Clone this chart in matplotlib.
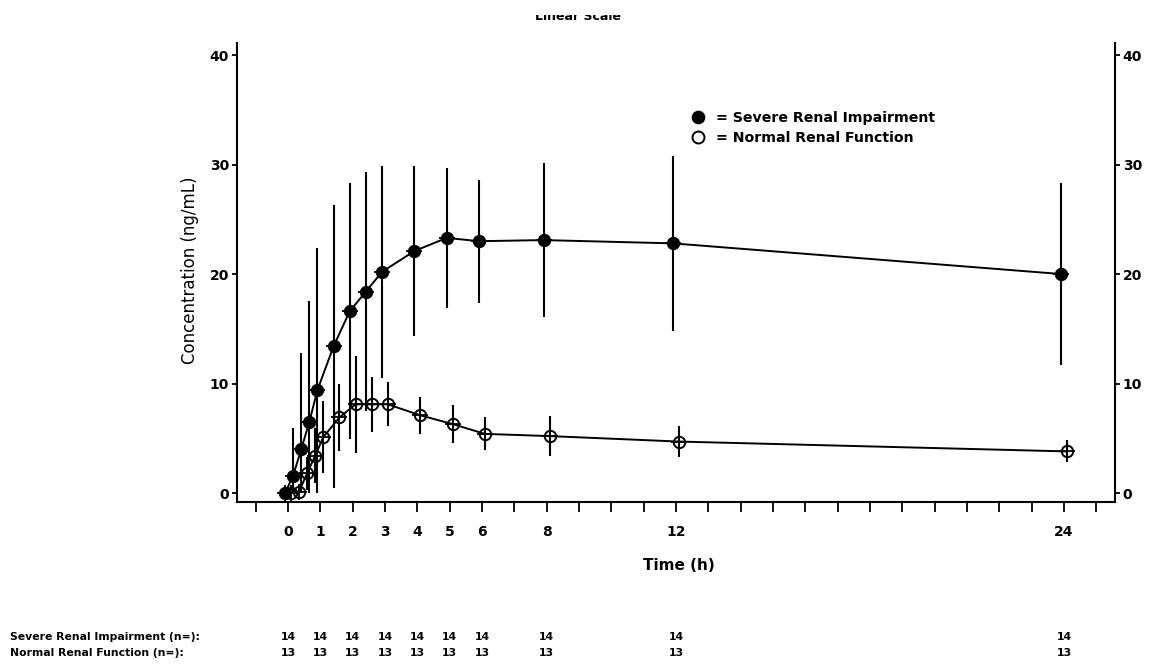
import numpy as np
import matplotlib
matplotlib.use("Agg")
import matplotlib.pyplot as plt
from matplotlib.lines import Line2D
from matplotlib.patches import Rectangle
from matplotlib.ticker import FixedLocator, FixedFormatter
import matplotlib.transforms as mtransforms

# Data
times = [0, 0.25, 0.5, 0.75, 1, 1.5, 2, 2.5, 3, 4, 5, 6, 8, 12, 24]
severe_mean = [0, 1.6, 4.0, 6.5, 9.4, 13.4, 16.6, 18.4, 20.2, 22.1, 23.3, 23.0, 23.1, 22.8, 20.0]
severe_sd = [0, 4.3, 8.8, 11.0, 13.0, 12.9, 11.7, 10.9, 9.7, 7.8, 6.4, 5.6, 7.0, 8.0, 8.3]
normal_mean = [0, 0.1, 1.8, 3.4, 5.1, 6.9, 8.1, 8.1, 8.1, 7.1, 6.3, 5.4, 5.2, 4.7, 3.8]
normal_sd = [0, 0.3, 1.5, 2.5, 3.3, 3.1, 4.4, 2.5, 2.0, 1.7, 1.7, 1.5, 1.8, 1.4, 1.0]

label_times = [0, 1, 2, 3, 4, 5, 6, 8, 12, 24]
n_severe = [14, 14, 14, 14, 14, 14, 14, 14, 14, 14]
n_normal = [13, 13, 13, 13, 13, 13, 13, 13, 13, 13]

W, H = 1149, 664
DODGE = 0.09
FONT = "DejaVu Sans"

def fx(px):
    return px / W

def fy(py):
    return 1 - py / H

fig = plt.figure(figsize=(W / 100, H / 100), dpi=100)
ax = fig.add_axes([fx(237), fy(502), fx(1115) - fx(237), fy(43) - fy(502)])
ax.set_xlim(-1.577, 25.58)
ax.set_ylim(-0.82, 41.1)

# Series
def draw_series(x, mean, sd, face):
    x = np.asarray(x, float)
    mean = np.asarray(mean, float)
    sd = np.asarray(sd, float)
    lower = np.minimum(sd, mean)  # bars stop at zero
    ax.errorbar(x, mean, yerr=[lower, sd], fmt="none", ecolor="black",
                elinewidth=1.5, capsize=0, zorder=2)
    ax.plot(x, mean, "-", color="black", lw=1.4, zorder=3)
    ax.plot(x, mean, "o", ms=8.2, mfc=face, mec="black", mew=1.4, zorder=4)
    ax.plot(x, mean, "+", ms=11.5, mec="black", mew=1.3, zorder=5)

draw_series(np.array(times) + DODGE, normal_mean, normal_sd, "none")
draw_series(np.array(times) - DODGE, severe_mean, severe_sd, "black")

# Axes styling
for s in ["left", "right", "bottom"]:
    ax.spines[s].set_linewidth(1.5)
ax.spines["top"].set_visible(False)

ax.xaxis.set_major_locator(FixedLocator(list(range(-1, 26))))
ax.xaxis.set_major_formatter(FixedFormatter(
    [str(t) if t in label_times else "" for t in range(-1, 26)]))
ax.tick_params(axis="x", direction="out", length=7.2, width=1.3, pad=9,
               labelsize=10)
ax.set_yticks([0, 10, 20, 30, 40])
ax.tick_params(axis="y", direction="out", length=3.6, width=1.3, pad=2,
               left=True, right=True, labelleft=True, labelright=True,
               labelsize=10)
for t in ax.xaxis.get_major_ticks() + ax.yaxis.get_major_ticks():
    for lab in (t.label1, t.label2):
        lab.set_fontweight("bold")
        lab.set_family(FONT)

fig.text(fx(190), fy(270), "Concentration (ng/mL)", rotation=90, ha="center",
         va="center", fontsize=12, family=FONT)
fig.text(fx(679), fy(565), "Time (h)", ha="center", va="center",
         fontsize=11, fontweight="bold", family=FONT)

# Legend
fig.add_artist(Line2D([fx(698)], [fy(117)], marker="o", ms=8.8, mfc="black",
                      mec="black", ls="none"))
fig.add_artist(Line2D([fx(698)], [fy(137)], marker="o", ms=8.6, mfc="none",
                      mec="black", mew=1.4, ls="none"))
fig.text(fx(716), fy(118), "= Severe Renal Impairment", ha="left", va="center",
         fontsize=10.2, fontweight="bold", family=FONT)
fig.text(fx(716), fy(138), "= Normal Renal Function", ha="left", va="center",
         fontsize=10.2, fontweight="bold", family=FONT)

# Clipped title at the top
fig.text(fx(578), fy(20.5), "Linear Scale", ha="center", va="baseline",
         fontsize=9, fontweight="bold", family=FONT, zorder=3)
fig.add_artist(Rectangle((0, fy(15)), 1, 1 - fy(15), transform=fig.transFigure,
                         facecolor="white", edgecolor="none", zorder=10))

# n= table
trans = mtransforms.blended_transform_factory(ax.transData, fig.transFigure)
fig.text(fx(10), fy(637.5), "Severe Renal Impairment (n=):", ha="left",
         va="center", fontsize=7.8, fontweight="bold", family=FONT)
fig.text(fx(10), fy(652.5), "Normal Renal Function (n=):", ha="left",
         va="center", fontsize=7.8, fontweight="bold", family=FONT)
for t, ns, nn in zip(label_times, n_severe, n_normal):
    ax.text(t, fy(637.5), str(ns), transform=trans, ha="center", va="center",
            fontsize=7.8, fontweight="bold", family=FONT, clip_on=False)
    ax.text(t, fy(652.5), str(nn), transform=trans, ha="center", va="center",
            fontsize=7.8, fontweight="bold", family=FONT, clip_on=False)

fig.savefig("out.png", dpi=100)
